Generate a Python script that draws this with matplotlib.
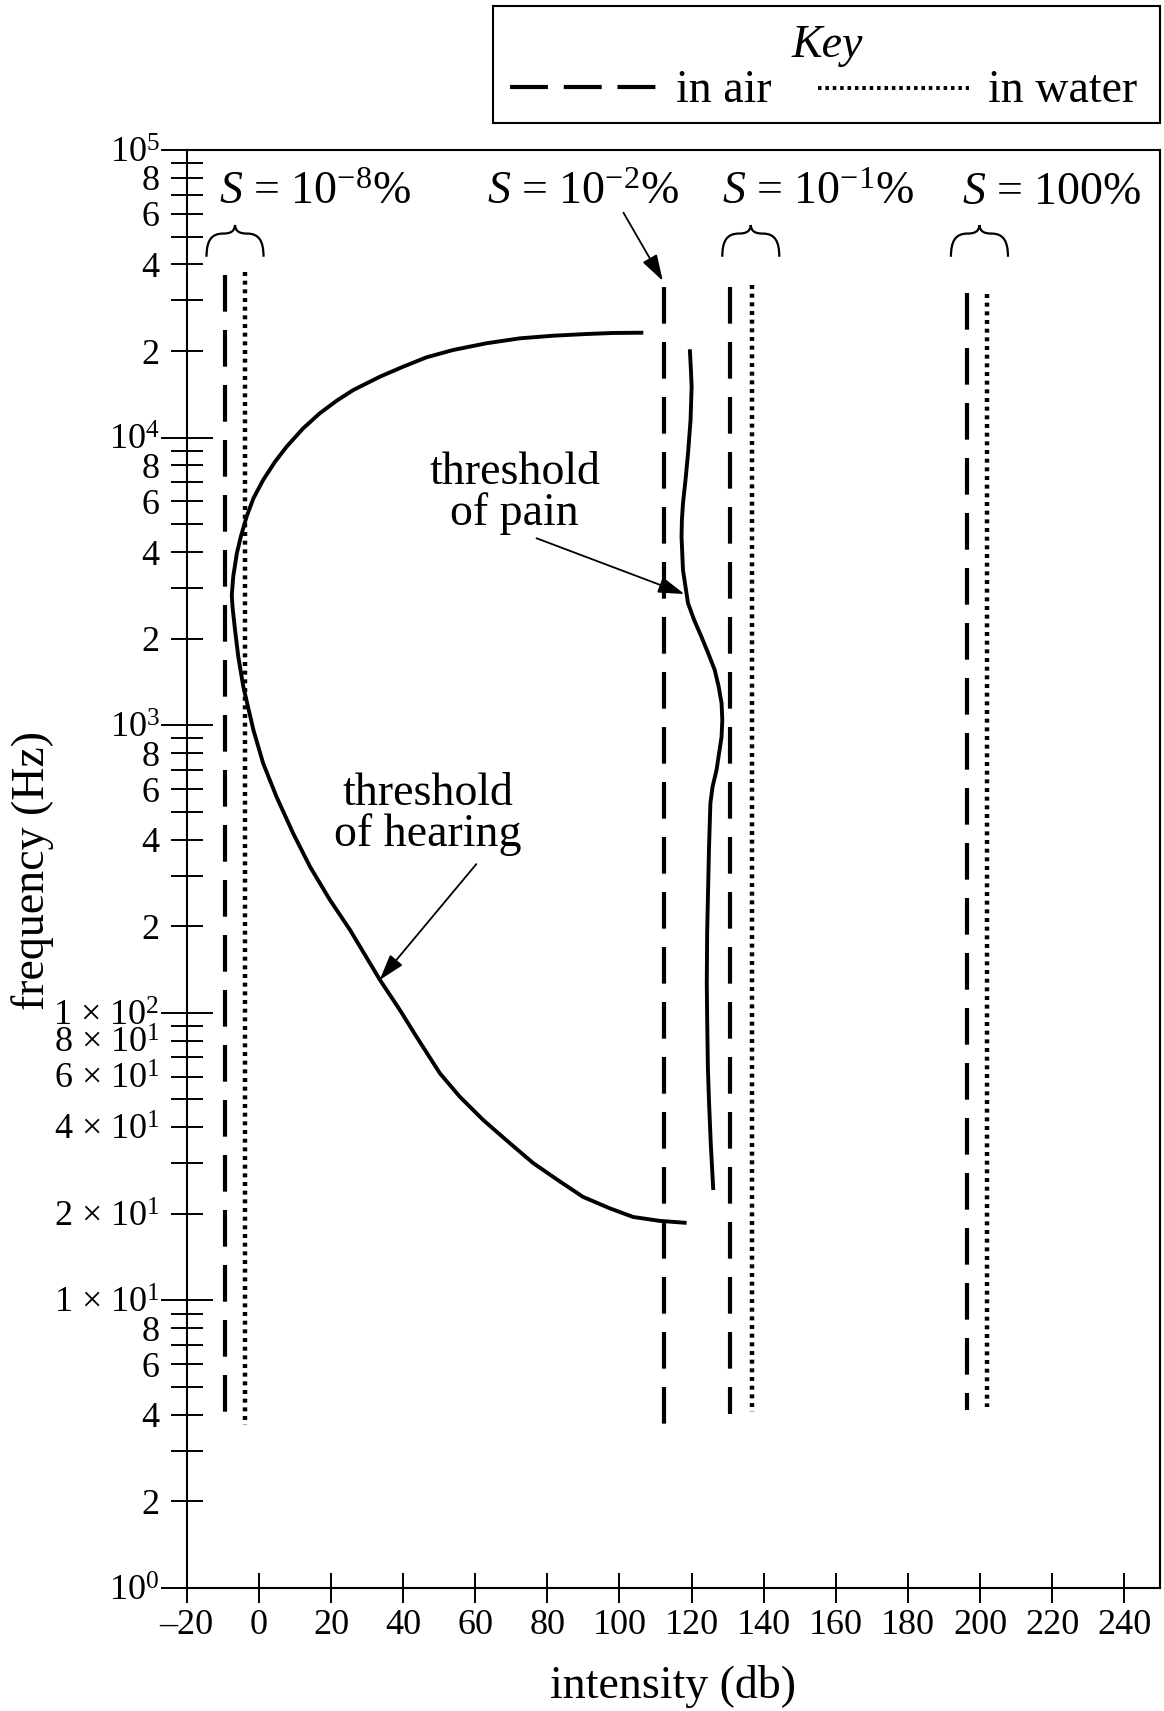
import numpy as np
import matplotlib.pyplot as plt
import matplotlib.transforms as mtransforms
from matplotlib.path import Path
from matplotlib.patches import PathPatch, Rectangle
from matplotlib.lines import Line2D
from matplotlib.ticker import FixedLocator, FixedFormatter

plt.rcParams['font.family'] = ['Liberation Serif', 'DejaVu Serif']
plt.rcParams['mathtext.fontset'] = 'custom'
plt.rcParams['mathtext.rm'] = 'Liberation Serif'
plt.rcParams['mathtext.it'] = 'Liberation Serif:italic'
plt.rcParams['mathtext.bf'] = 'Liberation Serif:bold'

# threshold of hearing (intensity db, frequency Hz)
hearing_db = [106.6, 98.2, 90.9, 81.6, 72.4, 63.1, 53.9, 46.5, 40.0, 33.6, 26.2,
              21.6, 16.9, 12.3, 7.7, 4.5, 1.2, -1.5, -3.4, -5.0, -6.1, -7.1, -7.5,
              -7.3, -6.6, -5.7, -4.3, -1.5, 1.2, 4.9, 9.5, 14.2, 19.7, 25.3, 33.6,
              39.1, 43.7, 50.2, 55.7, 62.2, 69.6, 76.1, 83.5, 89.9, 97.3, 103.8,
              111.2, 118.6]
hearing_hz = [23160, 23110, 22920, 22610, 22140, 21280, 20170, 19020, 17640,
              16290, 14640, 13440, 12150, 10770, 9300, 8245, 7124, 6150, 5309,
              4523, 3960, 3283, 2837, 2582, 2143, 1731, 1361, 962, 737, 564, 421,
              322, 247, 194, 130, 102.3, 82.6, 61.6, 51.1, 42.4, 35.2, 30.0, 25.9,
              22.9, 20.9, 19.5, 18.9, 18.6]

# threshold of pain
pain_db = [119.5, 119.8, 120.0, 119.7, 119.0, 118.3, 117.6, 117.3, 117.2, 117.4,
           117.6, 118.3, 119.0, 120.7, 122.7, 124.6, 126.4, 127.5, 128.3, 128.5,
           128.3, 127.6, 126.9, 125.8, 125.2, 124.8, 124.6, 124.3, 124.2, 124.3,
           124.5, 124.8, 125.3, 126.0]
pain_hz = [20280, 17180, 15030, 11510, 8820, 7124, 5910, 5170, 4523, 3960, 3464,
           3031, 2654, 2322, 2032, 1778, 1556, 1361, 1192, 1043, 912, 798, 698,
           611, 535, 368, 282, 189, 127, 96.9, 64.9, 49.8, 35.2, 24.2]

# S groups: dashed = in air, dotted = in water
s_labels = [r'$S$ = 10$^{-8}$%', r'$S$ = 10$^{-2}$%', r'$S$ = 10$^{-1}$%', r'$S$ = 100%']
air_db = [-9.4, 112.3, 130.5, 196.3]
air_top_hz = [36700, 33400, 33400, 31800]
air_bottom_hz = [4.0, 3.5, 4.03, 4.17]
water_db = [-3.7, None, 136.7, 201.8]
water_top_hz = [37800, None, 33800, 31500]
water_bottom_hz = [3.7, None, 4.09, 4.27]

x_ticks = list(range(-20, 241, 20))
x_ticklabels = ['\u201320'] + [str(v) for v in x_ticks[1:]]
y_major = [1, 10, 100, 1e3, 1e4, 1e5]
y_major_labels = ['10$^0$', '1 \u00d7 10$^1$', '1 \u00d7 10$^2$', '10$^3$', '10$^4$', '10$^5$']

W, H = 1164, 1711
FS = 33


def fx(px):
    return px / W


def fy(py):
    return 1 - py / H


fig = plt.figure(figsize=(W / 100, H / 100), dpi=100)
ax = fig.add_axes([fx(186.7), fy(1588), (1160.5 - 186.7) / W, (1588 - 150) / H])
ax.set_yscale('log')
ax.set_xlim(-20, 250)
ax.set_ylim(1, 1e5)

# ticks
y_minor, y_minor_labels = [], []
for dec in [1, 10, 100, 1000, 10000]:
    for m in range(2, 10):
        y_minor.append(m * dec)
        if m % 2:
            y_minor_labels.append('')
        elif dec == 10:
            y_minor_labels.append('%d \u00d7 10$^1$' % m)
        else:
            y_minor_labels.append(str(m))
ax.yaxis.set_major_locator(FixedLocator(y_major))
ax.yaxis.set_major_formatter(FixedFormatter(y_major_labels))
ax.yaxis.set_minor_locator(FixedLocator(y_minor))
ax.yaxis.set_minor_formatter(FixedFormatter(y_minor_labels))
ax.set_xticks(x_ticks)
ax.set_xticklabels(x_ticklabels)
ax.tick_params(axis='y', which='major', direction='inout', length=37, width=1.4, pad=1, labelsize=26)
ax.tick_params(axis='y', which='minor', direction='inout', length=23, width=1.4, pad=8, labelsize=26)
ax.tick_params(axis='x', which='major', direction='inout', length=21.6, width=1.4, pad=4, labelsize=26)
for sp in ax.spines.values():
    sp.set_linewidth(1.5)

# vertical S lines
for i in range(len(s_labels)):
    ax.plot([air_db[i], air_db[i]], [air_top_hz[i], air_bottom_hz[i]], color='k',
            lw=3, dashes=(8.8, 4.4), solid_capstyle='butt')
    if water_db[i] is not None:
        ax.plot([water_db[i], water_db[i]], [water_top_hz[i], water_bottom_hz[i]],
                color='k', lw=3.2, dashes=(0.9, 1.05))

# threshold curves
ax.plot(hearing_db, hearing_hz, color='k', lw=2.8, solid_capstyle='butt',
        solid_joinstyle='round')
ax.plot(pain_db, pain_hz, color='k', lw=2.8, solid_capstyle='butt',
        solid_joinstyle='round')

# S labels
for lab, x in zip(s_labels, [15.6, 90.0, 154.9, 219.9]):
    ax.text(x, 10 ** 4.812, lab, ha='center', va='baseline', fontsize=FS)


# braces over S groups
def brace(ax, x, f):
    v = np.array([(-28.5, -31.7), (-28.5, -16), (-24, -8.5), (-12, -8.5),
                  (-4, -8.5), (-0.5, -6), (0, 0),
                  (0.5, -6), (4, -8.5), (12, -8.5),
                  (24, -8.5), (28.5, -16), (28.5, -31.7)]) / 100.0
    codes = [Path.MOVETO] + [Path.CURVE4] * 12
    tr = fig.dpi_scale_trans + mtransforms.ScaledTranslation(x, f, ax.transData)
    ax.add_patch(PathPatch(Path(v, codes), fill=False, lw=1.6, ec='k', transform=tr,
                           clip_on=False))


for x in [-6.6, 136.4, 199.8]:
    brace(ax, x, 10 ** 4.739)

arrow = dict(arrowstyle='-|>,head_length=0.8,head_width=0.25', color='k', lw=1.3,
             shrinkA=0, shrinkB=0, mutation_scale=20)
ax.annotate('', xy=(112.0, 10 ** 4.545), xytext=(101.1, 10 ** 4.782), arrowprops=arrow)
ax.annotate('', xy=(118.0, 10 ** 3.456), xytext=(77.0, 10 ** 3.650), arrowprops=arrow)
ax.annotate('', xy=(33.5, 10 ** 2.114), xytext=(60.3, 10 ** 2.517), arrowprops=arrow)
ax.text(70.9, 10 ** 3.807, 'threshold\nof pain', ha='center', va='center',
        fontsize=FS, linespacing=0.95)
ax.text(46.9, 10 ** 2.689, 'threshold\nof hearing', ha='center', va='center',
        fontsize=FS, linespacing=0.95)

# axis labels
fig.text(fx(673), fy(1698), 'intensity (db)', ha='center', va='baseline', fontsize=FS)
fig.text(fx(33), fy(870), 'frequency (Hz)', ha='center', va='center', rotation=90, fontsize=FS)

# key box
fig.add_artist(Rectangle((fx(493), fy(123)), (1160 - 493) / W, (123 - 6) / H,
                         transform=fig.transFigure, fill=False, lw=1.5, ec='k'))
fig.text(fx(827), fy(56.7), 'Key', style='italic', ha='center', va='baseline', fontsize=FS)
fig.add_artist(Line2D([fx(510), fx(658)], [fy(87), fy(87)], transform=fig.transFigure,
                      color='k', lw=3, dashes=(9.1, 3.8)))
fig.text(fx(676), fy(101.5), 'in air', ha='left', va='baseline', fontsize=FS)
fig.add_artist(Line2D([fx(818), fx(969)], [fy(88), fy(88)], transform=fig.transFigure,
                      color='k', lw=2.8, dashes=(0.9, 1.0)))
fig.text(fx(988), fy(101.5), 'in water', ha='left', va='baseline', fontsize=FS)

fig.savefig('out.png', dpi=100)
